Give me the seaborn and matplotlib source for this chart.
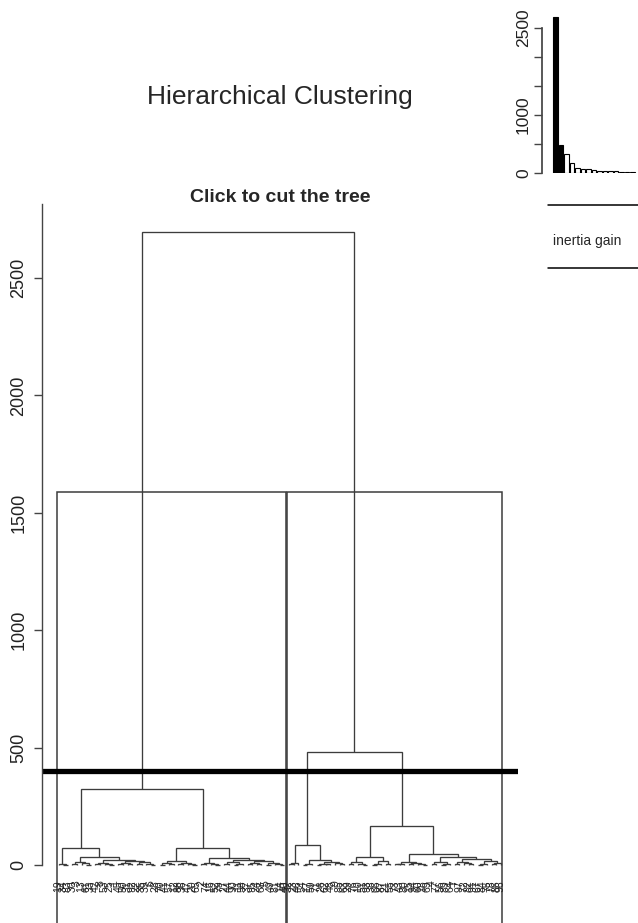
import matplotlib
matplotlib.use("Agg")
import matplotlib.pyplot as plt
import seaborn as sns
import pandas as pd
from matplotlib import font_manager as fm
from matplotlib.patches import Rectangle

# ---------------- data ----------------
leaf_labels_left = [19, 34, 83, 30, 3, 13, 61, 33, 42, 8, 53, 25, 1, 45, 50, 31, 92, 22, 35, 39,
                    6, 28, 70, 41, 57, 12, 88, 36, 47, 20, 65, 2, 74, 16, 52, 79, 27, 44, 90, 11,
                    58, 37, 95, 24, 68, 5, 49, 81, 14, 40]
leaf_labels_right = [32, 23, 46, 54, 17, 59, 71, 26, 62, 48, 9, 85, 63, 29, 76, 10, 51, 93, 38, 66,
                     87, 21, 55, 73, 43, 80, 15, 94, 60, 18, 69, 4, 77, 56, 89, 64, 7, 97, 72, 82,
                     91, 67, 84, 75, 78, 86, 96]

# sub-trees: (merge height, left, right); integers are leaf positions
LA1 = (6, 0, (2, 1, 2))
LA2a = (12, (3, 3, 4), (7, 5, (2, 6, 7)))
LA2b = (22, (10, (4, 8, 9), (6, 10, (2, 11, 12))),
        (16, (8, (3, 13, 14), (5, 15, 16)), (11, (4, 17, 18), (6, 19, (2, 20, 21)))))
LB1 = (18, (7, (2, 22, 23), (4, 24, 25)), (10, (3, 26, 27), (5, 28, (1.5, 29, 30))))
LB2 = (30, (9, (3, 31, 32), (5, 33, (2, 34, 35))),
       (21, (12, (4, 36, 37), (6, (2, 38, 39), 40)),
        (15, (7, (3, 41, 42), (4, 43, 44)), (9, (2, 45, 46), (5, 47, (1, 48, 49))))))
RA1 = (8, (3, 50, 51), 52)
RA2 = (20, (6, (2, 53, 54), 55), (14, (5, (2, 56, 57), (3, 58, 59)), (8, 60, (3, 61, 62))))
RB1 = (33, (12, (3, 63, 64), (5, 65, (2, 66, 67))), (15, (6, (2, 68, 69), 70), (4, 71, 72)))
RB2a = (14, (6, (4, 73, 74), 75), (9, (3, 76, 77), (5, 78, (2, 79, 80))))
RB2b = (33, (12, (4, 81, 82), (6, (2, 83, 84), 85)),
        (25, (14, (5, 86, 87), (7, 88, (3, 89, 90))), (18, (6, (2, 91, 92), 93), (9, (3, 94, 95), 96))))

LA_heights = [33, 74]
LB_height = 71
L_height = 325
RA_height = 85
RB2_height = 47
RB_height = 166
R_height = 480
root_height = 2696
cut_height = 402

ytick_values = [0, 500, 1000, 1500, 2000, 2500]
inset_tick_values = [0, 500, 1000, 1500, 2000, 2500]
inset_tick_labels = ["0", "", "1000", "", "", "2500"]
n_inset_bars = 15
n_black_bars = 2

main_title = "Hierarchical Clustering"
sub_title = "Click to cut the tree"
legend_text = "inertia gain"

# ---------------- assemble tree ----------------
LA = (LA_heights[1], LA1, (LA_heights[0], LA2a, LA2b))
LB = (LB_height, LB1, LB2)
L = (L_height, LA, LB)
RA = (RA_height, RA1, RA2)
RB = (RB_height, RB1, (RB2_height, RB2a, RB2b))
R = (R_height, RA, RB)
tree = (root_height, L, R)
leaf_labels = leaf_labels_left + leaf_labels_right
n_left = len(leaf_labels_left)
n_all = len(leaf_labels)

# ---------------- fonts ----------------
sns.set_theme(style="white")
def has_font(name):
    try:
        fm.findfont(fm.FontProperties(family=name), fallback_to_default=False)
        return True
    except Exception:
        return False
narrow = "Liberation Sans Narrow" if has_font("Liberation Sans Narrow") else "Liberation Sans"
plt.rcParams["font.family"] = ["Liberation Sans", "DejaVu Sans"]

W, H = 638, 923
fig = plt.figure(figsize=(W / 100, H / 100), dpi=100)
fig.patch.set_facecolor("white")

# main axes: pixel box x 42..518, y 204..923
ax = fig.add_axes([42 / W, 0, (518 - 42) / W, (923 - 204) / H])
ax.set_facecolor("white")
line_col = "#3c3c3c"
heights = []

def draw(node):
    if not isinstance(node, tuple):
        return float(node), 0.0
    h, a, b = node
    heights.append(h)
    xa, ya = draw(a)
    xb, yb = draw(b)
    ax.plot([xa, xa, xb, xb], [ya, h, h, yb], color=line_col, lw=0.95,
            solid_capstyle="butt", solid_joinstyle="miter")
    return (xa + xb) / 2, h

draw(tree)

# cluster rectangles
rect_top = (root_height + R_height) / 2
ylim_bottom = -247
for x0, x1 in [(-0.34, n_left - 1 + 0.33), (n_left - 0.34, n_all - 1 + 0.33)]:
    ax.add_patch(Rectangle((x0, ylim_bottom - 200), x1 - x0, rect_top - ylim_bottom + 200,
                           fill=False, edgecolor=line_col, lw=1.1))

# cut line
ax.axhline(cut_height, color="black", lw=3.8)

# leaf labels
for k, lab in enumerate(leaf_labels):
    ax.text(k, -66, str(lab), rotation=90, ha="center", va="top", fontsize=7.5,
            color="#222222")

ax.set_xlim(-3.6, 99.7)
ax.set_ylim(ylim_bottom, 2815)
for s in ["top", "right", "bottom"]:
    ax.spines[s].set_visible(False)
ax.spines["left"].set_bounds(0, 2815)
ax.spines["left"].set_color("#444444")
ax.spines["left"].set_linewidth(1.0)
ax.set_xticks([])
ax.set_yticks(ytick_values)
ax.set_yticklabels([str(v) for v in ytick_values], rotation=90, va="center")
ax.tick_params(axis="y", direction="out", length=5.5, width=1, color="#444444",
               labelsize=13, pad=5, left=True, labelcolor="#222222")
ax.grid(False)

fig.text(280 / W, 1 - 197 / H, sub_title, ha="center", va="center",
         fontsize=14, fontweight="bold", family=[narrow, "DejaVu Sans"])
fig.text(280 / W, 1 - 97 / H, main_title, ha="center", va="center",
         fontsize=19, family=[narrow, "DejaVu Sans"])

# ---------------- inset: inertia gain ----------------
gains = sorted(heights, reverse=True)[:n_inset_bars]
ranks = [str(i + 1) for i in range(len(gains))]
df = pd.DataFrame({"rank": ranks, "gain": gains})
pal = {r: ("black" if i < n_black_bars else "white") for i, r in enumerate(ranks)}

inset = fig.add_axes([542 / W, 1 - 173 / H, (638 - 542) / W, (173 - 10) / H])
sns.barplot(data=df, x="rank", y="gain", hue="rank", palette=pal, legend=False,
            edgecolor="black", linewidth=0.8, width=0.83, dodge=False, ax=inset)
inset.set_xlim(-2.45, 15.0)
inset.set_ylim(0, 2810)
for s in ["top", "right", "bottom"]:
    inset.spines[s].set_visible(False)
inset.spines["left"].set_bounds(0, 2500)
inset.spines["left"].set_color("#444444")
inset.set_xticks([])
inset.set_xlabel("")
inset.set_ylabel("")
inset.set_yticks(inset_tick_values)
inset.set_yticklabels(inset_tick_labels, rotation=90, va="center")
inset.tick_params(axis="y", direction="out", length=5.5, width=1, color="#444444",
                  labelsize=12.5, pad=2.5, left=True, labelcolor="#222222")
inset.set_facecolor("white")

# legend-like lines and text
fig.add_artist(plt.Line2D([548 / W, 1.0], [1 - 205 / H, 1 - 205 / H], color="black", lw=1.1))
fig.add_artist(plt.Line2D([548 / W, 1.0], [1 - 268 / H, 1 - 268 / H], color="black", lw=1.1))
fig.text(553 / W, 1 - 241 / H, legend_text, ha="left", va="center", fontsize=10,
         family=[narrow, "DejaVu Sans"])

fig.savefig("out.png", dpi=100)
